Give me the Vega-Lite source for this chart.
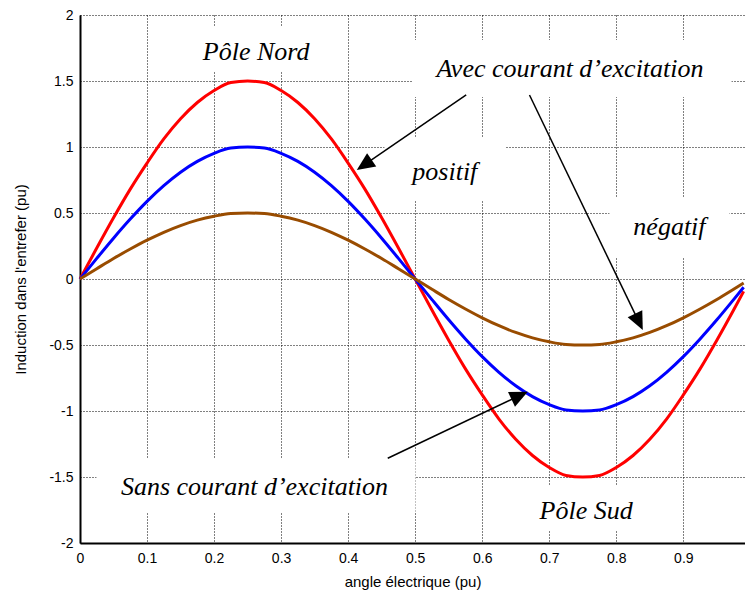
{
  "$schema": "https://vega.github.io/schema/vega-lite/v6.json",
  "width": 665,
  "height": 528,
  "autosize": {"type": "none"},
  "padding": {"left": 80, "top": 15, "right": 0, "bottom": 54},
  "background": "white",
  "config": {
    "view": {"stroke": null},
    "axis": {
      "labelFont": "Liberation Sans", "labelFontSize": 14, "labelColor": "black",
      "titleFont": "Liberation Sans", "titleFontSize": 15, "titleFontWeight": "normal", "titleColor": "black",
      "ticks": false, "domainColor": "black", "domainWidth": 2,
      "grid": true, "gridColor": "black", "gridDash": [1, 2], "gridOpacity": 1, "gridWidth": 1,
      "labelFlush": false
    }
  },
  "datasets": {
    "boxes": [
      {"x": 0.1633, "x2": 0.3721, "y": 1.9167, "y2": 1.5682},
      {"x": 0.4959, "x2": 0.9719, "y": 1.8106, "y2": 1.3788},
      {"x": 0.4542, "x2": 0.6347, "y": 1.0682, "y2": 0.5909},
      {"x": 0.7898, "x2": 0.9688, "y": 0.6136, "y2": 0.1667},
      {"x": 0.0246, "x2": 0.5005, "y": -1.3561, "y2": -1.7652},
      {"x": 0.6556, "x2": 0.8495, "y": -1.5606, "y2": -1.9015}
    ],
    "labels": [
      {"x": 0.2628, "y": 1.659, "text": "Pôle Nord"},
      {"x": 0.7309, "y": 1.528, "text": "Avec courant d’excitation"},
      {"x": 0.5442, "y": 0.75, "text": "positif"},
      {"x": 0.8793, "y": 0.333, "text": "négatif"},
      {"x": 0.2603, "y": -1.636, "text": "Sans courant d’excitation"},
      {"x": 0.7551, "y": -1.8205, "text": "Pôle Sud"}
    ],
    "arrows": [
      {"x0": 0.5761, "y0": 1.394, "x1": 0.424, "y1": 0.8643, "angle": 235.6},
      {"x0": 0.6705, "y0": 1.394, "x1": 0.8337, "y1": -0.325, "angle": 154.3},
      {"x0": 0.4591, "y0": -1.3583, "x1": 0.6558, "y1": -0.8831, "angle": 64.6}
    ],
    "curves": [
      {"x": 0, "y": 0, "s": "positif"}, {"x": 0.025, "y": 0.235, "s": "positif"}, {"x": 0.05, "y": 0.464, "s": "positif"}, {"x": 0.075, "y": 0.681, "s": "positif"},
      {"x": 0.1, "y": 0.878, "s": "positif"}, {"x": 0.125, "y": 1.061, "s": "positif"}, {"x": 0.15, "y": 1.214, "s": "positif"}, {"x": 0.175, "y": 1.337, "s": "positif"},
      {"x": 0.2, "y": 1.428, "s": "positif"}, {"x": 0.225, "y": 1.488, "s": "positif"}, {"x": 0.25, "y": 1.5, "s": "positif"}, {"x": 0.275, "y": 1.488, "s": "positif"},
      {"x": 0.3, "y": 1.428, "s": "positif"}, {"x": 0.325, "y": 1.337, "s": "positif"}, {"x": 0.35, "y": 1.214, "s": "positif"}, {"x": 0.375, "y": 1.061, "s": "positif"},
      {"x": 0.4, "y": 0.878, "s": "positif"}, {"x": 0.425, "y": 0.681, "s": "positif"}, {"x": 0.45, "y": 0.464, "s": "positif"}, {"x": 0.475, "y": 0.235, "s": "positif"},
      {"x": 0.5, "y": 0, "s": "positif"}, {"x": 0.525, "y": -0.235, "s": "positif"}, {"x": 0.55, "y": -0.464, "s": "positif"}, {"x": 0.575, "y": -0.681, "s": "positif"},
      {"x": 0.6, "y": -0.878, "s": "positif"}, {"x": 0.625, "y": -1.061, "s": "positif"}, {"x": 0.65, "y": -1.214, "s": "positif"}, {"x": 0.675, "y": -1.337, "s": "positif"},
      {"x": 0.7, "y": -1.428, "s": "positif"}, {"x": 0.725, "y": -1.488, "s": "positif"}, {"x": 0.75, "y": -1.5, "s": "positif"}, {"x": 0.775, "y": -1.488, "s": "positif"},
      {"x": 0.8, "y": -1.428, "s": "positif"}, {"x": 0.825, "y": -1.337, "s": "positif"}, {"x": 0.85, "y": -1.214, "s": "positif"}, {"x": 0.875, "y": -1.061, "s": "positif"},
      {"x": 0.9, "y": -0.878, "s": "positif"}, {"x": 0.925, "y": -0.681, "s": "positif"}, {"x": 0.95, "y": -0.464, "s": "positif"}, {"x": 0.975, "y": -0.235, "s": "positif"},
      {"x": 0.99, "y": -0.094, "s": "positif"},
      {"x": 0, "y": 0, "s": "sans"}, {"x": 0.025, "y": 0.156, "s": "sans"}, {"x": 0.05, "y": 0.309, "s": "sans"}, {"x": 0.075, "y": 0.454, "s": "sans"},
      {"x": 0.1, "y": 0.588, "s": "sans"}, {"x": 0.125, "y": 0.707, "s": "sans"}, {"x": 0.15, "y": 0.809, "s": "sans"}, {"x": 0.175, "y": 0.891, "s": "sans"},
      {"x": 0.2, "y": 0.952, "s": "sans"}, {"x": 0.225, "y": 0.992, "s": "sans"}, {"x": 0.25, "y": 1, "s": "sans"}, {"x": 0.275, "y": 0.992, "s": "sans"},
      {"x": 0.3, "y": 0.952, "s": "sans"}, {"x": 0.325, "y": 0.891, "s": "sans"}, {"x": 0.35, "y": 0.809, "s": "sans"}, {"x": 0.375, "y": 0.707, "s": "sans"},
      {"x": 0.4, "y": 0.588, "s": "sans"}, {"x": 0.425, "y": 0.454, "s": "sans"}, {"x": 0.45, "y": 0.309, "s": "sans"}, {"x": 0.475, "y": 0.156, "s": "sans"},
      {"x": 0.5, "y": 0, "s": "sans"}, {"x": 0.525, "y": -0.156, "s": "sans"}, {"x": 0.55, "y": -0.309, "s": "sans"}, {"x": 0.575, "y": -0.454, "s": "sans"},
      {"x": 0.6, "y": -0.588, "s": "sans"}, {"x": 0.625, "y": -0.707, "s": "sans"}, {"x": 0.65, "y": -0.809, "s": "sans"}, {"x": 0.675, "y": -0.891, "s": "sans"},
      {"x": 0.7, "y": -0.952, "s": "sans"}, {"x": 0.725, "y": -0.992, "s": "sans"}, {"x": 0.75, "y": -1, "s": "sans"}, {"x": 0.775, "y": -0.992, "s": "sans"},
      {"x": 0.8, "y": -0.952, "s": "sans"}, {"x": 0.825, "y": -0.891, "s": "sans"}, {"x": 0.85, "y": -0.809, "s": "sans"}, {"x": 0.875, "y": -0.707, "s": "sans"},
      {"x": 0.9, "y": -0.588, "s": "sans"}, {"x": 0.925, "y": -0.454, "s": "sans"}, {"x": 0.95, "y": -0.309, "s": "sans"}, {"x": 0.975, "y": -0.156, "s": "sans"},
      {"x": 0.99, "y": -0.063, "s": "sans"},
      {"x": 0, "y": 0, "s": "négatif"}, {"x": 0.025, "y": 0.078, "s": "négatif"}, {"x": 0.05, "y": 0.155, "s": "négatif"}, {"x": 0.075, "y": 0.227, "s": "négatif"},
      {"x": 0.1, "y": 0.294, "s": "négatif"}, {"x": 0.125, "y": 0.354, "s": "négatif"}, {"x": 0.15, "y": 0.405, "s": "négatif"}, {"x": 0.175, "y": 0.446, "s": "négatif"},
      {"x": 0.2, "y": 0.476, "s": "négatif"}, {"x": 0.225, "y": 0.496, "s": "négatif"}, {"x": 0.25, "y": 0.5, "s": "négatif"}, {"x": 0.275, "y": 0.496, "s": "négatif"},
      {"x": 0.3, "y": 0.476, "s": "négatif"}, {"x": 0.325, "y": 0.446, "s": "négatif"}, {"x": 0.35, "y": 0.405, "s": "négatif"}, {"x": 0.375, "y": 0.354, "s": "négatif"},
      {"x": 0.4, "y": 0.294, "s": "négatif"}, {"x": 0.425, "y": 0.227, "s": "négatif"}, {"x": 0.45, "y": 0.155, "s": "négatif"}, {"x": 0.475, "y": 0.078, "s": "négatif"},
      {"x": 0.5, "y": 0, "s": "négatif"}, {"x": 0.525, "y": -0.078, "s": "négatif"}, {"x": 0.55, "y": -0.155, "s": "négatif"}, {"x": 0.575, "y": -0.227, "s": "négatif"},
      {"x": 0.6, "y": -0.294, "s": "négatif"}, {"x": 0.625, "y": -0.354, "s": "négatif"}, {"x": 0.65, "y": -0.405, "s": "négatif"}, {"x": 0.675, "y": -0.446, "s": "négatif"},
      {"x": 0.7, "y": -0.476, "s": "négatif"}, {"x": 0.725, "y": -0.496, "s": "négatif"}, {"x": 0.75, "y": -0.5, "s": "négatif"}, {"x": 0.775, "y": -0.496, "s": "négatif"},
      {"x": 0.8, "y": -0.476, "s": "négatif"}, {"x": 0.825, "y": -0.446, "s": "négatif"}, {"x": 0.85, "y": -0.405, "s": "négatif"}, {"x": 0.875, "y": -0.354, "s": "négatif"},
      {"x": 0.9, "y": -0.294, "s": "négatif"}, {"x": 0.925, "y": -0.227, "s": "négatif"}, {"x": 0.95, "y": -0.155, "s": "négatif"}, {"x": 0.975, "y": -0.078, "s": "négatif"},
      {"x": 0.99, "y": -0.031, "s": "négatif"}
    ]
  },
  "layer": [
    {
      "data": {"name": "boxes"},
      "mark": {"type": "rect", "fill": "white", "strokeWidth": 0},
      "encoding": {
        "x": {"field": "x", "type": "quantitative", "title": "angle électrique (pu)",
              "scale": {"domain": [0, 0.992], "nice": false, "zero": false},
              "axis": {"values": [0, 0.1, 0.2, 0.3, 0.4, 0.5, 0.6, 0.7, 0.8, 0.9], "labelExpr": "'' + datum.value", "labelPadding": 8, "titlePadding": 9, "title": "angle électrique (pu)"}},
        "x2": {"field": "x2", "title": "angle électrique (pu)"},
        "y": {"field": "y", "type": "quantitative", "title": "Induction dans l'entrefer (pu)",
              "scale": {"domain": [-2, 2], "nice": false, "zero": false},
              "axis": {"values": [-2, -1.5, -1, -0.5, 0, 0.5, 1, 1.5, 2], "labelExpr": "'' + datum.value", "labelPadding": 7, "titlePadding": 20, "title": "Induction dans l'entrefer (pu)"}},
        "y2": {"field": "y2", "title": "Induction dans l'entrefer (pu)"}
      }
    },
    {
      "data": {"name": "curves"},
      "mark": {"type": "line", "strokeWidth": 3, "interpolate": "monotone"},
      "encoding": {
        "x": {"field": "x", "type": "quantitative", "title": "angle électrique (pu)"},
        "y": {"field": "y", "type": "quantitative", "title": "Induction dans l'entrefer (pu)"},
        "color": {"field": "s", "type": "nominal", "legend": null,
                  "scale": {"domain": ["positif", "sans", "négatif"], "range": ["#ff0000", "#0000ff", "#994c00"]}}
      }
    },
    {
      "mark": {"type": "rule", "color": "black", "strokeWidth": 2},
      "encoding": {"y": {"datum": 2, "type": "quantitative", "title": "Induction dans l'entrefer (pu)"}}
    },
    {
      "data": {"name": "arrows"},
      "mark": {"type": "rule", "color": "black", "strokeWidth": 1.5},
      "encoding": {
        "x": {"field": "x0", "type": "quantitative", "title": "angle électrique (pu)"},
        "y": {"field": "y0", "type": "quantitative", "title": "Induction dans l'entrefer (pu)"},
        "x2": {"field": "x1", "title": "angle électrique (pu)"},
        "y2": {"field": "y1", "title": "Induction dans l'entrefer (pu)"}
      }
    },
    {
      "data": {"name": "arrows"},
      "mark": {"type": "point", "shape": "M0,-1L0.9,1L-0.9,1Z", "filled": true, "color": "black", "opacity": 1, "size": 324, "strokeWidth": 0},
      "encoding": {
        "x": {"field": "x1", "type": "quantitative", "title": "angle électrique (pu)"},
        "y": {"field": "y1", "type": "quantitative", "title": "Induction dans l'entrefer (pu)"},
        "angle": {"field": "angle", "type": "quantitative", "scale": null}
      }
    },
    {
      "data": {"name": "labels"},
      "mark": {"type": "text", "font": "Liberation Serif", "fontStyle": "italic", "fontSize": 26, "align": "center", "baseline": "alphabetic", "color": "black"},
      "encoding": {
        "x": {"field": "x", "type": "quantitative", "title": "angle électrique (pu)"},
        "y": {"field": "y", "type": "quantitative", "title": "Induction dans l'entrefer (pu)"},
        "text": {"field": "text", "type": "nominal"}
      }
    }
  ]
}
